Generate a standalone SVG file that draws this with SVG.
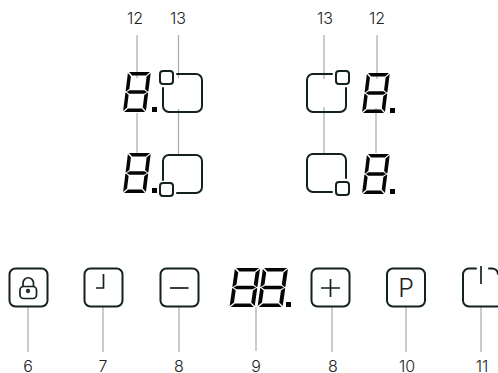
<svg xmlns="http://www.w3.org/2000/svg" width="498" height="373" viewBox="0 0 498 373">
<style>
text{font-family:Inter,"Liberation Sans",sans-serif;font-size:16px;font-weight:300;fill:#222;text-anchor:middle}
.l{stroke:#aaa;stroke-width:1.2;fill:none}
.s{fill:none;stroke:#13211f;stroke-width:2;stroke-linecap:round;stroke-linejoin:round}
.i{fill:none;stroke:#13211f;stroke-width:1.7}
.d{fill:#050505}
</style>
<defs>
<g id="seg">
<g transform="skewX(-7.1)">
<polygon class="d" points="1,0 22,0 18.5,3.5 4.5,3.5"/>
<polygon class="d" points="0,1 3.5,4.5 3.5,17 0.5,19.5 0,19"/>
<polygon class="d" points="22.8,1 22.8,19 22,19.5 19.2,17 19.2,4.5"/>
<polygon class="d" points="1.2,20 4,18.2 18.7,18.2 21.6,20 18.7,21.8 4,21.8"/>
<polygon class="d" points="0,21 0.5,20.6 3.5,23 3.5,35.5 0,39"/>
<polygon class="d" points="22.2,20.6 22.8,21 22.8,39 19.2,35.5 19.2,23"/>
<polygon class="d" points="4.5,36.5 18.5,36.5 22,40 1,40"/>
</g>
</g>
</defs>
<g id="connectors">
<path class="l" d="M137 35V78M137 113V155M178.500 35V78M178.500 109V155M324 35V79M324 107V153M377 35V79M376 108V153M28 307V352M103 307V352M179 307V352M256 307V351M332 307V352M406 307V352M481 307V352"/>
</g>
<g id="display-left-top"><use href="#seg" x="128" y="72"/><rect class="d" x="152" y="107" width="5" height="5"/></g>
<g id="display-left-bottom"><use href="#seg" x="128" y="153"/><rect class="d" x="152" y="188" width="5" height="5"/></g>
<g id="display-right-top"><use href="#seg" x="367" y="73"/><rect class="d" x="390" y="108" width="5" height="5"/></g>
<g id="display-right-bottom"><use href="#seg" x="367" y="154"/><rect class="d" x="390" y="189" width="5" height="5"/></g>
<g id="zone-left-top"><path class="s" d="M177 74H196A6 6 0 0 1 202 80V106A6 6 0 0 1 196 112H169A6 6 0 0 1 163 106V88"/><rect class="s" x="160" y="71" width="13" height="13" rx="3"/></g>
<g id="zone-left-bottom"><path class="s" d="M163 180V161A6 6 0 0 1 169 155H196A6 6 0 0 1 202 161V187A6 6 0 0 1 196 193H177"/><rect class="s" x="160" y="183" width="13" height="13" rx="3"/></g>
<g id="zone-right-top"><path class="s" d="M332 74H313A6 6 0 0 0 307 80V106A6 6 0 0 0 313 112H340A6 6 0 0 0 346 106V88"/><rect class="s" x="336" y="71" width="13" height="13" rx="3"/></g>
<g id="zone-right-bottom"><path class="s" d="M332 192H313A6 6 0 0 1 307 186V160A6 6 0 0 1 313 154H340A6 6 0 0 1 346 160V178"/><rect class="s" x="336" y="182" width="13" height="13" rx="3"/></g>
<g id="btn-lock"><rect class="s" x="9.500" y="268.500" width="38" height="38" rx="6"/><rect class="i" x="20" y="286.500" width="16.500" height="12" rx="3.500"/><path class="i" d="M23 286.500V283A5 5 0 0 1 33.500 283V286.500"/><circle class="i" cx="28" cy="291" r="1.300" stroke-width="1"/></g>
<g id="btn-clock"><rect class="s" x="84.500" y="268.500" width="38" height="38" rx="6"/><path class="i" d="M103.500 274V288H96"/></g>
<g id="btn-minus"><rect class="s" x="160.500" y="268.500" width="38" height="38" rx="6"/><path class="i" d="M170 288H188.500"/></g>
<g id="display-timer"><use href="#seg" transform="translate(235 268) scale(1.1 0.975)"/><use href="#seg" transform="translate(263 268) scale(1.1 0.975)"/><rect class="d" x="286" y="302" width="5" height="5"/></g>
<g id="btn-plus"><rect class="s" x="311.500" y="268.500" width="38" height="38" rx="6"/><path class="i" d="M321 288H340M330.500 279V297"/></g>
<g id="btn-p"><rect class="s" x="387" y="268.500" width="38" height="38" rx="6"/><text x="406" y="297" style="font-size:25px">P</text></g>
<g id="btn-power"><path class="s" d="M476 268.500H469A6 6 0 0 0 463 274.500V300.500A6 6 0 0 0 469 306.500H499"/><path class="s" d="M489 268.500H492A6 6 0 0 1 498 274"/><path class="i" d="M481 266V284"/></g>
<g id="labels">
<text x="135" y="24">12</text><text x="178" y="24">13</text><text x="325" y="24">13</text><text x="377" y="24">12</text>
<text x="28" y="372">6</text><text x="103" y="372">7</text><text x="179" y="372">8</text><text x="256" y="372">9</text><text x="333" y="372">8</text><text x="407" y="372">10</text><text x="482" y="372">11</text>
</g>
</svg>
